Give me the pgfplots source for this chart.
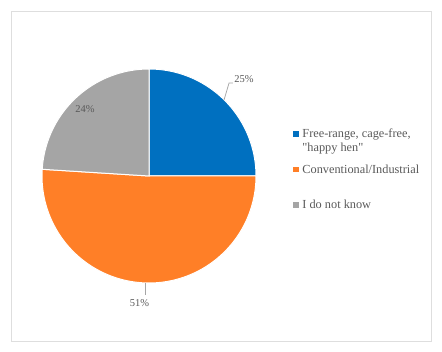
\documentclass[border=0pt]{standalone}
\usepackage{fontspec}
\setmainfont{Liberation Serif}
\usepackage{pgfplots}
\usepackage{pgfplotstable}
\pgfplotsset{compat=1.18}
\definecolor{cblue}{HTML}{0070C0}
\definecolor{corange}{HTML}{FF7F27}
\definecolor{cgray}{HTML}{A5A5A5}
\definecolor{ctext}{HTML}{595959}
\definecolor{cframe}{HTML}{DEDEDE}
\definecolor{cleader}{HTML}{A6A6A6}

\pgfplotstableread{
share
25
51
24
}\piedata

\begin{document}
\begin{tikzpicture}
\path[use as bounding box] (0bp,0bp) rectangle (442bp,352bp);
\draw[cframe, line width=1.5bp] (11.5bp,10.5bp) rectangle (431.5bp,340.5bp);
\pgfplotstablegetelem{0}{share}\of\piedata \let\sA\pgfplotsretval
\pgfplotstablegetelem{1}{share}\of\piedata \let\sB\pgfplotsretval
\pgfplotstablegetelem{2}{share}\of\piedata \let\sC\pgfplotsretval
\pgfmathsetmacro\aA{90}
\pgfmathsetmacro\aB{90-3.6*\sA}
\pgfmathsetmacro\aC{\aB-3.6*\sB}
\pgfmathsetmacro\aD{\aC-3.6*\sC}
\begin{axis}[
  x=107bp, y=107bp, xmin=-1.2, xmax=1.2, ymin=-1.2, ymax=1.2,
  hide axis, clip=false, anchor=center, at={(149bp,176bp)},
  legend image code/.code={\fill[#1] (0bp,1.6bp) rectangle (4.5bp,6.1bp);},
  legend style={draw=none, fill=none, at={(axis cs:1.346,0.451)}, anchor=north west,
    inner sep=0pt, outer sep=0pt, row sep=7.5bp, column sep=4.5bp,
    nodes={anchor=base west, inner sep=0pt, text height=9.8bp, text depth=18.2bp},
    font=\fontsize{12.3bp}{14bp}\selectfont, text=ctext},
]
\addplot[fill=cblue, draw=white, line width=1bp, domain=\aB:\aA, samples=80, variable=\t, forget plot]
  ({cos(\t)},{sin(\t)}) -- (axis cs:0,0) -- cycle;
\addplot[fill=corange, draw=white, line width=1bp, domain=\aC:\aB, samples=120, variable=\t, forget plot]
  ({cos(\t)},{sin(\t)}) -- (axis cs:0,0) -- cycle;
\addplot[fill=cgray, draw=white, line width=1bp, domain=\aD:\aC, samples=80, variable=\t, forget plot]
  ({cos(\t)},{sin(\t)}) -- (axis cs:0,0) -- cycle;
\addplot[cleader, line width=0.75bp, forget plot] coordinates {(0.701,0.710) (0.748,0.869) (0.785,0.869)};
\addplot[cleader, line width=0.75bp, forget plot] coordinates {(-0.037,-1.0) (-0.037,-1.112)};
\node[text=ctext, font=\fontsize{10.5bp}{12bp}\selectfont, inner sep=0pt] at (axis cs:0.888,0.907) {25\%};
\node[text=ctext, font=\fontsize{10.5bp}{12bp}\selectfont, inner sep=0pt] at (axis cs:-0.598,0.626) {24\%};
\node[text=ctext, font=\fontsize{10.5bp}{12bp}\selectfont, inner sep=0pt] at (axis cs:-0.089,-1.192) {51\%};
\addlegendimage{cblue}
\addlegendentry{\parbox[t]{4.5cm}{Free-range, cage-free,\\\textquotedbl happy hen\textquotedbl}}
\addlegendimage{corange}
\addlegendentry{Conventional/Industrial}
\addlegendimage{cgray}
\addlegendentry{I do not know}
\end{axis}
\end{tikzpicture}
\end{document}
